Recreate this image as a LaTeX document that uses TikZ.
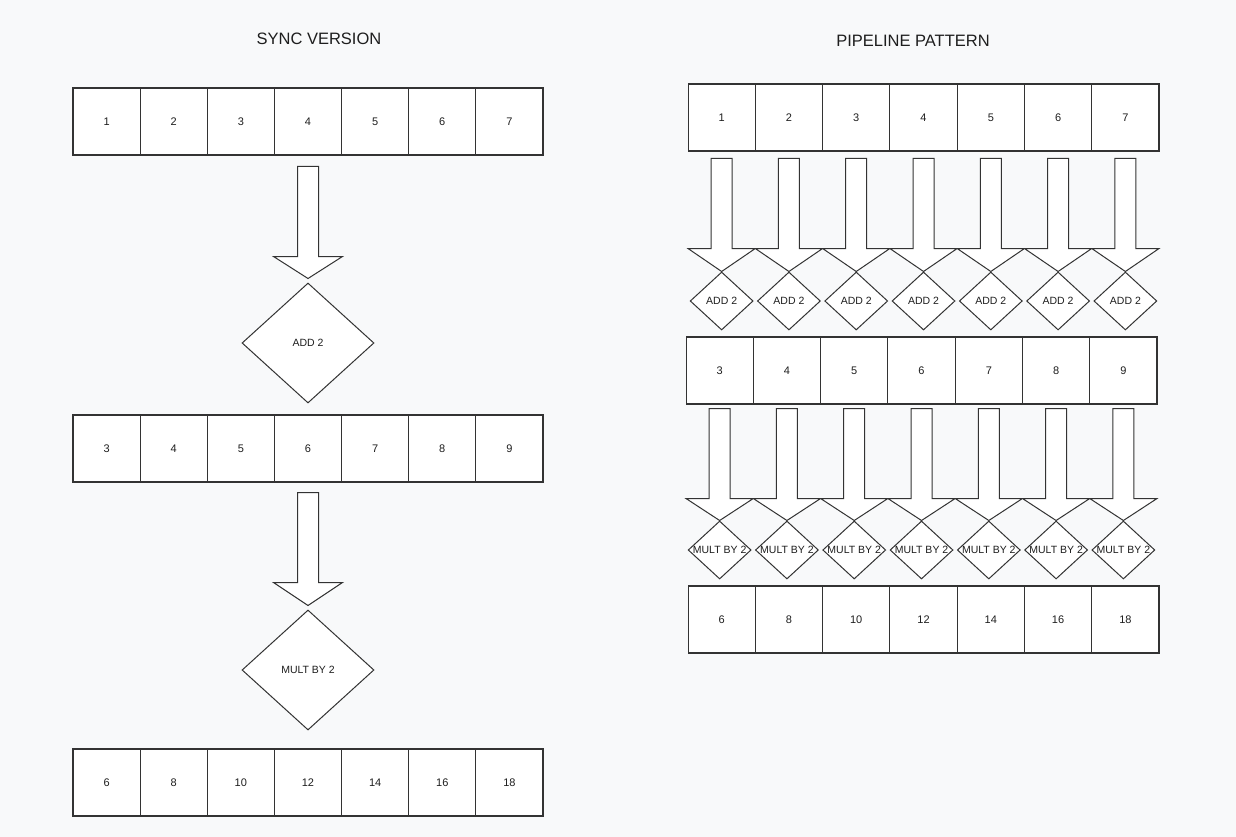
\documentclass[tikz,border=0pt]{standalone}
\usepackage{fontspec}
\setmainfont{Liberation Sans}
\usetikzlibrary{shapes.geometric,calc}
\definecolor{bg}{HTML}{F8F9FA}
\definecolor{ink}{HTML}{1E1E1E}
\definecolor{edge}{HTML}{333333}
\tikzset{
  cell/.style={draw=edge, fill=white, line width=1.1pt, minimum width=67.2pt, minimum height=67pt, inner sep=0pt, text=ink, font=\fontsize{11}{13}\selectfont},
  bigdia/.style={shape=diamond, draw=edge, fill=white, line width=1pt, inner sep=0pt, minimum width=132pt, minimum height=120pt, text=ink, font=\fontsize{10.5}{12}\selectfont},
  smalldia/.style={shape=diamond, draw=edge, fill=white, line width=1pt, inner sep=0pt, minimum width=63pt, minimum height=58pt},
  dialabel/.style={label={[text=ink, font=\fontsize{10.5}{12}\selectfont, inner sep=0pt]center:#1}},
  arrowbox/.style={draw=edge, fill=white, line width=1pt, line join=miter},
  title/.style={text=ink, font=\fontsize{16.5}{19}\selectfont, inner sep=0pt}
}
% block arrow: #1 tip point, #2 shaft length, #3 head length, #4 head half-width
\newcommand\blockarrow[4]{%
  \begin{scope}[shift={(#1)}]
    \draw[arrowbox] (-10.5,{-(#2+#3)}) -- (10.5,{-(#2+#3)}) -- (10.5,-#3) -- (#4,-#3) -- (0,0) -- (-#4,-#3) -- (-10.5,-#3) -- cycle;
  \end{scope}}
\begin{document}
\begin{tikzpicture}[x=1pt,y=-1pt]
\fill[bg] (0,0) rectangle (1236,837);
\useasboundingbox (0,0) rectangle (1236,837);

% titles
\node[title] (t1) at (319,39) {SYNC VERSION};
\node[title] (t2) at (913,41) {PIPELINE PATTERN};

% ---------- SYNC VERSION ----------
\foreach \v [count=\i] in {1,...,7}
  \node[cell] (sa\i) at ({73+67.14*(\i-0.5)},121.5) {\v};
\foreach \v [count=\i] in {3,...,9}
  \node[cell] (sb\i) at ({73+67.14*(\i-0.5)},448.5) {\v};
\foreach \v [count=\i] in {6,8,10,12,14,16,18}
  \node[cell] (sc\i) at ({73+67.14*(\i-0.5)},782.5) {\v};

\node[bigdia] (sadd) at (308,343) {ADD 2};
\node[bigdia] (smul) at (308,670) {MULT BY 2};

\blockarrow{$(sadd.north)+(0,-4)$}{90}{22}{34.5}
\blockarrow{$(smul.north)+(0,-4)$}{90}{23}{34.5}

% ---------- PIPELINE PATTERN ----------
\foreach \v [count=\i] in {1,...,7}
  \node[cell] (pa\i) at ({688+67.29*(\i-0.5)},117.5) {\v};
\foreach \v [count=\i] in {3,...,9}
  \node[cell] (pb\i) at ({686+67.29*(\i-0.5)},370.5) {\v};
\foreach \v [count=\i] in {6,8,10,12,14,16,18}
  \node[cell] (pc\i) at ({688+67.29*(\i-0.5)},619.5) {\v};

\foreach \i in {1,...,7} {
  \node[smalldia, dialabel={ADD 2}] (pd\i) at ({688+67.29*(\i-0.5)},301) {};
  \node[smalldia, dialabel={MULT BY 2}] (pm\i) at ({686+67.29*(\i-0.5)},550) {};
}
\foreach \i in {1,...,7} {
  \blockarrow{pd\i.north}{90}{23}{33.65}
  \blockarrow{pm\i.north}{90}{22}{33.65}
}
\end{tikzpicture}
\end{document}
